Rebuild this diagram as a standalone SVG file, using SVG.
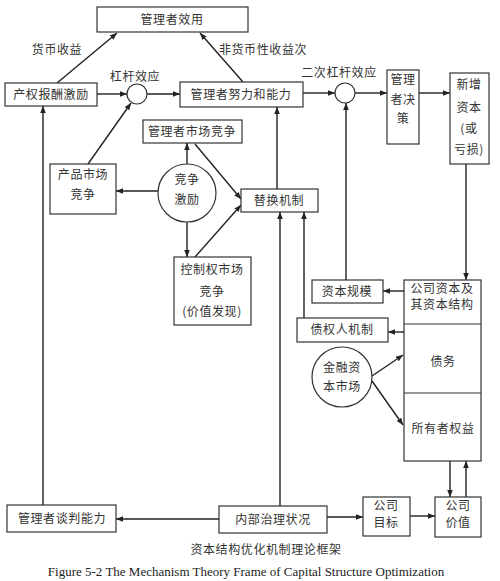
<svg xmlns="http://www.w3.org/2000/svg" width="500" height="581" viewBox="0 0 500 581">
<defs>
<style>
.b{fill:#fff;stroke:#333;stroke-width:1.2}
.t{font-family:"Noto Sans CJK SC","Noto Sans",sans-serif;font-size:12px;fill:#333;text-anchor:middle;letter-spacing:0.6px}
.c{fill:none;stroke:#222;stroke-width:1.4}
</style>
<marker id="a" viewBox="0 0 10 10" refX="10" refY="5" markerWidth="7" markerHeight="7" orient="auto" markerUnits="userSpaceOnUse"><path d="M0,1 L10,5 L0,9 z" fill="#222"/></marker>
</defs>
<rect width="500" height="581" fill="#fff"/>
<g id="connectors">
<line class="c" x1="57" y1="83" x2="117" y2="33" marker-end="url(#a)"/>
<line class="c" x1="243" y1="82" x2="200" y2="33" marker-end="url(#a)"/>
<line class="c" x1="97" y1="94" x2="127" y2="94" marker-end="url(#a)"/>
<line class="c" x1="147" y1="94" x2="180" y2="94" marker-end="url(#a)"/>
<line class="c" x1="303" y1="93" x2="335" y2="93" marker-end="url(#a)"/>
<line class="c" x1="355" y1="93" x2="387" y2="93" marker-end="url(#a)"/>
<line class="c" x1="419" y1="93" x2="450" y2="93" marker-end="url(#a)"/>
<line class="c" x1="466" y1="164" x2="466" y2="280" marker-end="url(#a)"/>
<line class="c" x1="404" y1="291" x2="383" y2="291" marker-end="url(#a)"/>
<line class="c" x1="346" y1="280" x2="346" y2="103" marker-end="url(#a)"/>
<line class="c" x1="404" y1="332" x2="388" y2="332" marker-end="url(#a)"/>
<line class="c" x1="304" y1="318" x2="304" y2="212" marker-end="url(#a)"/>
<line class="c" x1="280" y1="506" x2="280" y2="212" marker-end="url(#a)"/>
<line class="c" x1="277" y1="189" x2="277" y2="107" marker-end="url(#a)"/>
<line class="c" x1="88" y1="164" x2="131" y2="103" marker-end="url(#a)"/>
<line class="c" x1="158" y1="191" x2="116" y2="191" marker-end="url(#a)"/>
<line class="c" x1="187" y1="164" x2="187" y2="143" marker-end="url(#a)"/>
<line class="c" x1="195" y1="144" x2="241" y2="199" marker-end="url(#a)"/>
<line class="c" x1="187" y1="222" x2="187" y2="257" marker-end="url(#a)"/>
<line class="c" x1="195" y1="257" x2="241" y2="205" marker-end="url(#a)"/>
<line class="c" x1="372" y1="376" x2="403" y2="355" marker-end="url(#a)"/>
<line class="c" x1="372" y1="381" x2="403" y2="425" marker-end="url(#a)"/>
<line class="c" x1="450" y1="461" x2="450" y2="497" marker-end="url(#a)"/>
<line class="c" x1="466" y1="497" x2="466" y2="461" marker-end="url(#a)"/>
<line class="c" x1="219" y1="519" x2="116" y2="519" marker-end="url(#a)"/>
<line class="c" x1="327" y1="517" x2="363" y2="517" marker-end="url(#a)"/>
<line class="c" x1="410" y1="516" x2="435" y2="516" marker-end="url(#a)"/>
<line class="c" x1="43" y1="505" x2="43" y2="106" marker-end="url(#a)"/>
</g>
<g id="labels">
<text class="t" x="57" y="54">货币收益</text>
<text class="t" x="263" y="54">非货币性收益次</text>
<text class="t" x="135" y="81">杠杆效应</text>
<text class="t" x="339" y="77">二次杠杆效应</text>
</g>
<g id="n-utility"><rect class="b" x="97" y="7" width="151" height="25"/><text class="t" x="172" y="24">管理者效用</text></g>
<g id="n-incentive"><rect class="b" x="5" y="83" width="92" height="23"/><text class="t" x="51" y="99">产权报酬激励</text></g>
<g id="n-lev1"><circle class="b" cx="137" cy="94" r="10"/></g>
<g id="n-effort"><rect class="b" x="180" y="82" width="123" height="25"/><text class="t" x="241" y="99">管理者努力和能力</text></g>
<g id="n-lev2"><circle class="b" cx="345" cy="93" r="10"/></g>
<g id="n-decision"><rect class="b" x="387" y="70" width="32" height="74"/><text class="t" x="403" y="84">管理</text><text class="t" x="403" y="104">者决</text><text class="t" x="403" y="123">策</text></g>
<g id="n-newcap"><rect class="b" x="450" y="73" width="39" height="91"/><text class="t" x="469" y="89">新增</text><text class="t" x="469" y="112">资本</text><text class="t" x="469" y="133">(或</text><text class="t" x="469" y="154">亏损)</text></g>
<g id="n-mgrmarket"><rect class="b" x="143" y="120" width="99" height="23"/><text class="t" x="192" y="136">管理者市场竞争</text></g>
<g id="n-product"><rect class="b" x="50" y="164" width="66" height="50"/><text class="t" x="83" y="179">产品市场</text><text class="t" x="83" y="199">竞争</text></g>
<g id="n-compete"><circle class="b" cx="187" cy="193" r="29"/><text class="t" x="187" y="184">竞争</text><text class="t" x="187" y="204">激励</text></g>
<g id="n-replace"><rect class="b" x="241" y="189" width="77" height="23"/><text class="t" x="279" y="205">替换机制</text></g>
<g id="n-control"><rect class="b" x="174" y="257" width="77" height="68"/><text class="t" x="212" y="274">控制权市场</text><text class="t" x="212" y="296">竞争</text><text class="t" x="212" y="316">(价值发现)</text></g>
<g id="n-scale"><rect class="b" x="312" y="280" width="71" height="23"/><text class="t" x="347" y="296">资本规模</text></g>
<g id="n-structure"><rect class="b" x="404" y="280" width="77" height="181"/><line class="b" x1="404" y1="324" x2="481" y2="324"/><line class="b" x1="404" y1="393" x2="481" y2="393"/><text class="t" x="442" y="293">公司资本及</text><text class="t" x="442" y="309">其资本结构</text><text class="t" x="443" y="366">债务</text><text class="t" x="443" y="433">所有者权益</text></g>
<g id="n-creditor"><rect class="b" x="297" y="318" width="91" height="24"/><text class="t" x="342" y="334">债权人机制</text></g>
<g id="n-finmarket"><circle class="b" cx="342" cy="377" r="30"/><text class="t" x="342" y="372">金融资</text><text class="t" x="342" y="391">本市场</text></g>
<g id="n-bargain"><rect class="b" x="7" y="505" width="109" height="27"/><text class="t" x="62" y="523">管理者谈判能力</text></g>
<g id="n-governance"><rect class="b" x="219" y="506" width="108" height="27"/><text class="t" x="273" y="524">内部治理状况</text></g>
<g id="n-goal"><rect class="b" x="363" y="497" width="47" height="39"/><text class="t" x="386" y="510">公司</text><text class="t" x="386" y="527">目标</text></g>
<g id="n-value"><rect class="b" x="435" y="497" width="46" height="40"/><text class="t" x="458" y="510">公司</text><text class="t" x="458" y="527">价值</text></g>
<g id="caption">
<text class="t" x="266" y="554">资本结构优化机制理论框架</text>
<text x="246" y="576" font-family="Liberation Serif, serif" font-size="13" fill="#222" text-anchor="middle">Figure 5-2 The Mechanism Theory Frame of Capital Structure Optimization</text>
</g>
</svg>
